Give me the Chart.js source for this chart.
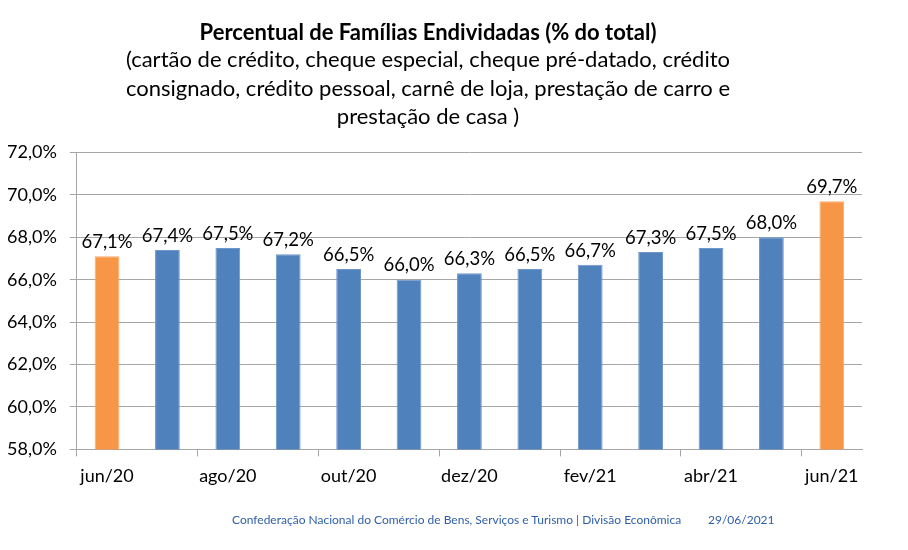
<!DOCTYPE html>
<html>
<head>
<meta charset="utf-8">
<script src="https://cdn.jsdelivr.net/npm/chart.js@4"></script>
<style>
  html, body { margin: 0; padding: 0; background: #ffffff; }
  #wrap { position: relative; width: 908px; height: 550px; }
  .foot { position: absolute; top: 512px; font-family: Lato, sans-serif; font-size: 12px; color: #2f5fa8; white-space: pre; }
</style>
</head>
<body>
<div id="wrap">
  <canvas id="c" width="908" height="550"></canvas>
  <div class="foot" style="left:232px">Confederação Nacional do Comércio de Bens, Serviços e Turismo | Divisão Econômica</div>
  <div class="foot" style="left:708px">29/06/2021</div>
</div>
<script>
const categories = ['jun/20','jul/20','ago/20','set/20','out/20','nov/20','dez/20','jan/21','fev/21','mar/21','abr/21','mai/21','jun/21'];
const values = [67.1, 67.4, 67.5, 67.2, 66.5, 66.0, 66.3, 66.5, 66.7, 67.3, 67.5, 68.0, 69.7];
const highlighted = [true, false, false, false, false, false, false, false, false, false, false, false, true];
const titleText = 'Percentual de Famílias Endividadas (% do total)';
const subtitleLines = ['(cartão de crédito, cheque especial, cheque pré-datado, crédito', 'consignado, crédito pessoal, carnê de loja, prestação de carro e', 'prestação de casa )'];

const fmt = v => v.toFixed(1).replace('.', ',') + '%';
const FONT = 'Lato';

const barLabels = {
  id: 'barLabels',
  afterDatasetsDraw(chart) {
    const ctx = chart.ctx;
    const meta = chart.getDatasetMeta(0);
    ctx.save();
    ctx.font = '18.5px ' + FONT;
    ctx.fillStyle = '#000';
    ctx.textAlign = 'center';
    ctx.textBaseline = 'bottom';
    meta.data.forEach((bar, i) => {
      ctx.fillText(fmt(values[i]), bar.x, bar.y - 5);
    });
    ctx.restore();
  }
};

new Chart(document.getElementById('c'), {
  type: 'bar',
  data: {
    labels: categories,
    datasets: [{
      data: values,
      backgroundColor: highlighted.map(h => h ? '#F79646' : '#4F81BD'),
      borderColor: highlighted.map(h => h ? '#F9A868' : '#6D96CB'),
      borderWidth: 1,
      barPercentage: 0.82,
      categoryPercentage: 0.5
    }]
  },
  options: {
    responsive: false,
    animation: false,
    layout: { padding: { left: -6, right: 46, top: 0, bottom: 54 } },
    plugins: {
      legend: { display: false },
      tooltip: { enabled: false },
      title: {
        display: true,
        text: titleText,
        color: '#000',
        font: { family: FONT, size: 22, weight: 'bold', lineHeight: 1.2 },
        padding: { top: 20, bottom: 0 }
      },
      subtitle: {
        display: true,
        text: subtitleLines,
        color: '#000',
        font: { family: FONT, size: 22, lineHeight: 1.273 },
        padding: { top: 0, bottom: 22 }
      }
    },
    scales: {
      x: {
        grid: {
          display: true,
          drawOnChartArea: false,
          drawTicks: true,
          tickLength: 7,
          offset: true,
          color: c => (c.index !== undefined && c.index % 2 === 0) ? '#a6a6a6' : 'rgba(0,0,0,0)'
        },
        border: { display: true, color: '#a6a6a6' },
        ticks: {
          autoSkip: false,
          maxRotation: 0,
          padding: 9,
          color: '#000',
          font: { family: FONT, size: 18 },
          callback: (v, i) => i % 2 === 0 ? categories[i] : ''
        }
      },
      y: {
        min: 58,
        max: 72,
        grid: { color: '#a6a6a6', tickLength: 7 },
        border: { display: true, color: '#a6a6a6' },
        ticks: {
          stepSize: 2,
          padding: 13,
          color: '#000',
          font: { family: FONT, size: 18 },
          callback: v => fmt(v)
        }
      }
    }
  },
  plugins: [barLabels]
});
</script>
</body>
</html>
